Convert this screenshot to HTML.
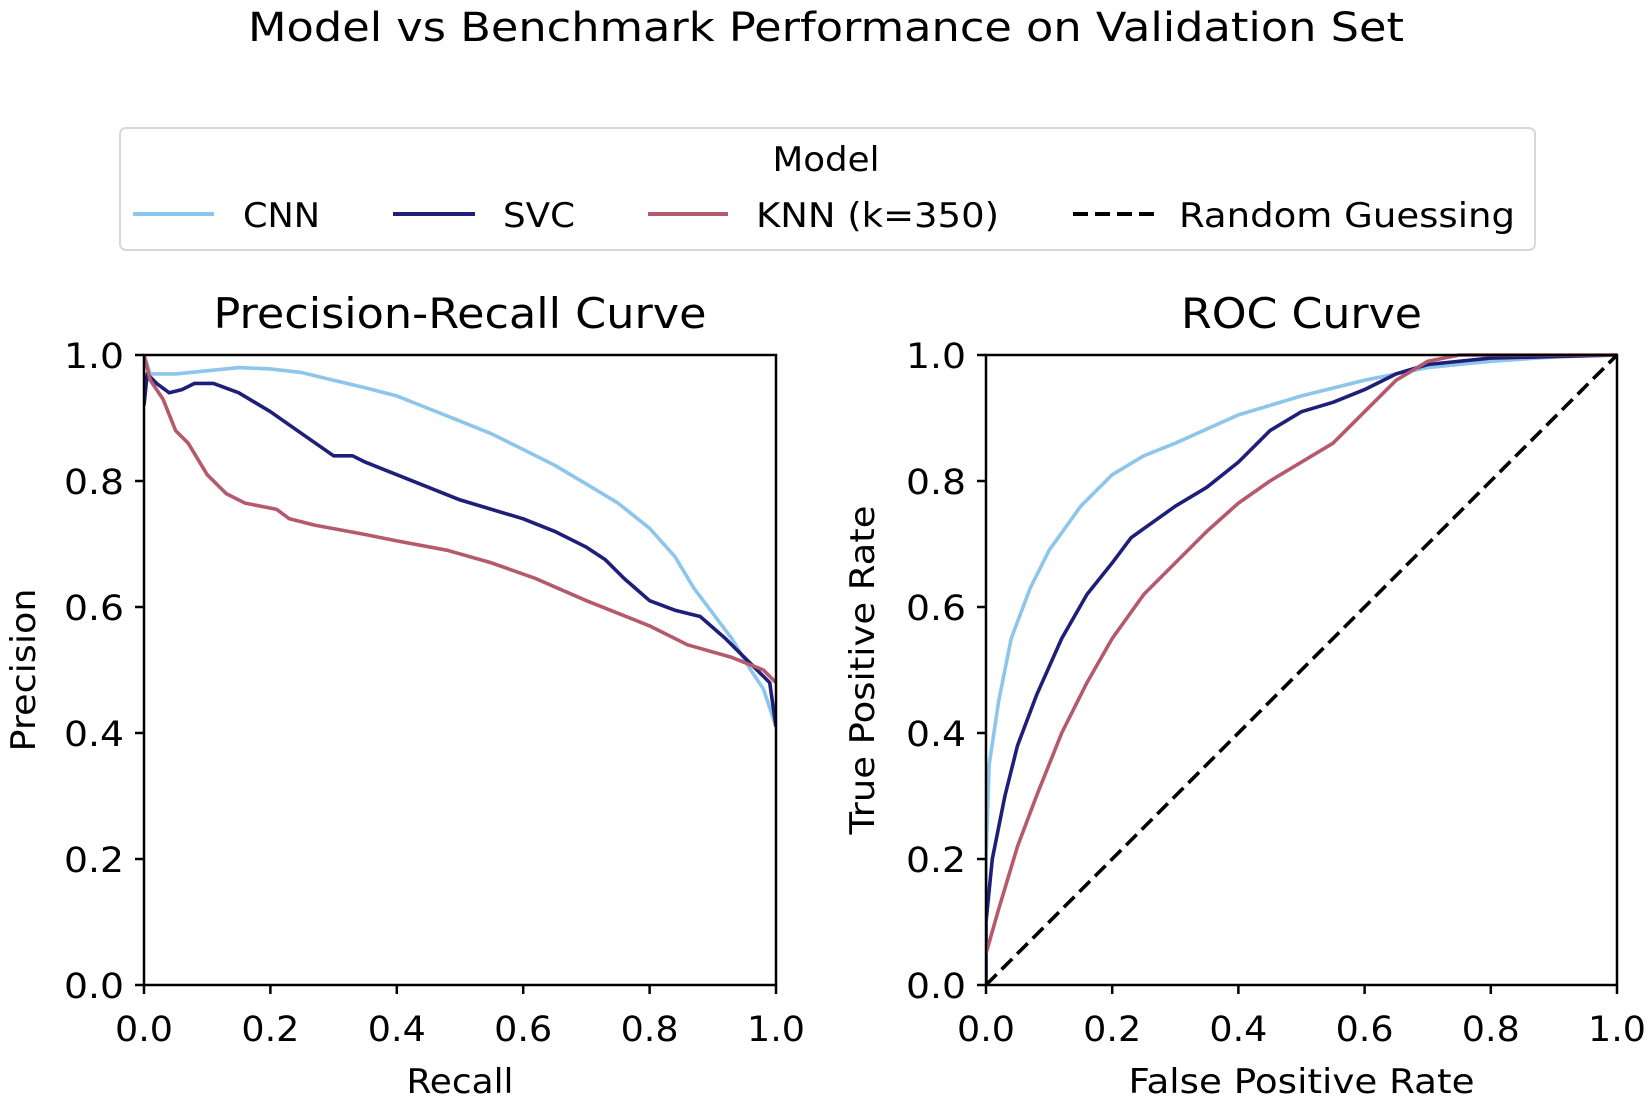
<!DOCTYPE html>
<html><head><meta charset="utf-8"><style>
html,body{margin:0;padding:0;background:#fff;}
svg{display:block;font-family:"DejaVu Sans","Liberation Sans",sans-serif;}
</style></head><body>
<svg id="chart" width="1649" height="1100" viewBox="0 0 1649 1100" xmlns="http://www.w3.org/2000/svg">
<text x="826" y="41" font-size="40" text-anchor="middle" textLength="1156" lengthAdjust="spacingAndGlyphs" fill="#000">Model vs Benchmark Performance on Validation Set</text>
<g>
<rect x="120" y="128" width="1415" height="122" rx="6" fill="#fff" stroke="#d8d8d8" stroke-width="2"/>
<text x="826" y="171" font-size="34" text-anchor="middle" textLength="107" lengthAdjust="spacingAndGlyphs">Model</text>
<g><line x1="133" y1="214" x2="214" y2="214" stroke="#8ec5ea" stroke-width="4"/><text x="243" y="227" font-size="34" textLength="77" lengthAdjust="spacingAndGlyphs">CNN</text></g>
<g><line x1="393" y1="214" x2="475" y2="214" stroke="#1f1f7a" stroke-width="4"/><text x="503" y="227" font-size="34" textLength="72" lengthAdjust="spacingAndGlyphs">SVC</text></g>
<g><line x1="648" y1="214" x2="728" y2="214" stroke="#b5596c" stroke-width="4"/><text x="756" y="227" font-size="34" textLength="243" lengthAdjust="spacingAndGlyphs">KNN (k=350)</text></g>
<g><line x1="1073" y1="214" x2="1154" y2="214" stroke="#000" stroke-width="4" stroke-dasharray="15,7"/><text x="1179" y="227" font-size="34" textLength="336" lengthAdjust="spacingAndGlyphs">Random Guessing</text></g>
</g>
<g id="pr"></g>
<g id="roc"></g>
</svg>
<script>
const prCnnX=[0,0.01,0.05,0.1,0.15,0.2,0.25,0.3,0.35,0.4,0.45,0.5,0.55,0.6,0.65,0.7,0.75,0.8,0.84,0.87,0.9,0.93,0.96,0.98,1.0];
const prCnnY=[1.0,0.97,0.97,0.975,0.98,0.978,0.972,0.96,0.948,0.935,0.915,0.895,0.875,0.85,0.825,0.795,0.765,0.725,0.68,0.63,0.59,0.55,0.5,0.47,0.41];
const prSvcX=[0,0.005,0.02,0.04,0.06,0.08,0.11,0.15,0.2,0.25,0.3,0.33,0.35,0.4,0.45,0.5,0.55,0.6,0.65,0.7,0.73,0.76,0.8,0.84,0.88,0.92,0.96,0.99,1.0];
const prSvcY=[0.92,0.97,0.955,0.94,0.945,0.955,0.955,0.94,0.91,0.875,0.84,0.84,0.83,0.81,0.79,0.77,0.755,0.74,0.72,0.695,0.675,0.645,0.61,0.595,0.585,0.55,0.51,0.48,0.41];
const prKnnX=[0,0.01,0.03,0.05,0.07,0.1,0.13,0.16,0.21,0.23,0.27,0.35,0.4,0.48,0.55,0.62,0.7,0.8,0.86,0.93,0.98,1.0];
const prKnnY=[1.0,0.96,0.93,0.88,0.86,0.81,0.78,0.765,0.755,0.74,0.73,0.715,0.705,0.69,0.67,0.645,0.61,0.57,0.54,0.52,0.5,0.48];
const rocCnnX=[0,0,0.005,0.02,0.04,0.07,0.1,0.15,0.2,0.25,0.3,0.4,0.5,0.6,0.7,0.8,0.9,1];
const rocCnnY=[0,0.2,0.35,0.45,0.55,0.63,0.69,0.76,0.81,0.84,0.86,0.905,0.935,0.96,0.98,0.99,0.997,1];
const rocSvcX=[0,0,0.01,0.03,0.05,0.08,0.12,0.16,0.2,0.23,0.3,0.35,0.4,0.45,0.5,0.55,0.6,0.65,0.7,0.8,1];
const rocSvcY=[0,0.1,0.2,0.3,0.38,0.46,0.55,0.62,0.67,0.71,0.76,0.79,0.83,0.88,0.91,0.925,0.945,0.97,0.985,0.995,1];
const rocKnnX=[0,0.02,0.05,0.08,0.12,0.16,0.2,0.25,0.3,0.35,0.4,0.45,0.5,0.55,0.6,0.65,0.7,0.75,1];
const rocKnnY=[0.05,0.12,0.22,0.3,0.4,0.48,0.55,0.62,0.67,0.72,0.765,0.8,0.83,0.86,0.91,0.96,0.99,1.0,1];
const randX=[0,1];
const randY=[0,1];
const tickLabels=["0.0","0.2","0.4","0.6","0.8","1.0"];
const tickVals=[0,0.2,0.4,0.6,0.8,1.0];
const NS="http://www.w3.org/2000/svg";
function mk(tag,attrs,parent){const e=document.createElementNS(NS,tag);for(const k in attrs)e.setAttribute(k,attrs[k]);parent.appendChild(e);return e;}
function panel(g,x0,x1,y0,y1,title,tw,xl,xw,yl,yw,ylx,series){
  const sx=v=>x0+v*(x1-x0), sy=v=>y1-v*(y1-y0);
  const t=mk('text',{x:(x0+x1)/2,y:328,'font-size':42,'text-anchor':'middle',textLength:tw,lengthAdjust:'spacingAndGlyphs'},g);t.textContent=title;
  
  
  const cp='clip'+x0;
  const cl=mk('clipPath',{id:cp},g);mk('rect',{x:x0,y:y0-3,width:x1-x0,height:y1-y0+6},cl);
  series.forEach(s=>{
    const d=s.x.map((v,i)=>(i?'L':'M')+sx(v).toFixed(1)+','+sy(s.y[i]).toFixed(1)).join(' ');
    const p=mk('path',{d:d,fill:'none',stroke:s.c,'stroke-width':3.6,'stroke-linejoin':'round','clip-path':'url(#'+cp+')'},g);
    if(s.dash)p.setAttribute('stroke-dasharray','15,7');
    
    
  });
  const fr=mk('rect',{x:x0,y:y0,width:x1-x0,height:y1-y0,fill:'none',stroke:'#000','stroke-width':2.5},g);
  
  
  tickVals.forEach((v,i)=>{
    mk('line',{x1:sx(v),y1:y1,x2:sx(v),y2:y1+9,stroke:'#000','stroke-width':2.5},g);
    const tx=mk('text',{x:sx(v),y:y1+56,'font-size':35,'text-anchor':'middle',textLength:58,lengthAdjust:'spacingAndGlyphs'},g);tx.textContent=tickLabels[i];
    
    
    mk('line',{x1:x0-9,y1:sy(v),x2:x0,y2:sy(v),stroke:'#000','stroke-width':2.5},g);
    const ty=mk('text',{x:x0-20,y:sy(v)+13,'font-size':35,'text-anchor':'end',textLength:60,lengthAdjust:'spacingAndGlyphs'},g);ty.textContent=tickLabels[i];
    
    
  });
  const xt=mk('text',{x:(x0+x1)/2,y:1093,'font-size':34,'text-anchor':'middle',textLength:xw,lengthAdjust:'spacingAndGlyphs'},g);xt.textContent=xl;
  
  
  const yt=mk('text',{x:0,y:0,'font-size':34,'text-anchor':'middle',textLength:yw,lengthAdjust:'spacingAndGlyphs',transform:'translate('+ylx+','+(y0+y1)/2+') rotate(-90)'},g);yt.textContent=yl;
  
  
}
panel(document.getElementById('pr'),144,776,355,985,'Precision-Recall Curve',493,'Recall',107,'Precision',163,35,[
 {x:prCnnX,y:prCnnY,c:'#8ec5ea',n:'pr-line-cnn'},{x:prSvcX,y:prSvcY,c:'#1f1f7a',n:'pr-line-svc'},{x:prKnnX,y:prKnnY,c:'#b5596c',n:'pr-line-knn'}]);
panel(document.getElementById('roc'),986,1617,355,985,'ROC Curve',241,'False Positive Rate',346,'True Positive Rate',329,874,[
 {x:rocCnnX,y:rocCnnY,c:'#8ec5ea',n:'roc-line-cnn'},{x:rocSvcX,y:rocSvcY,c:'#1f1f7a',n:'roc-line-svc'},{x:rocKnnX,y:rocKnnY,c:'#b5596c',n:'roc-line-knn'},{x:randX,y:randY,c:'#000',dash:true,n:'roc-line-random'}]);
</script>
</body></html>
